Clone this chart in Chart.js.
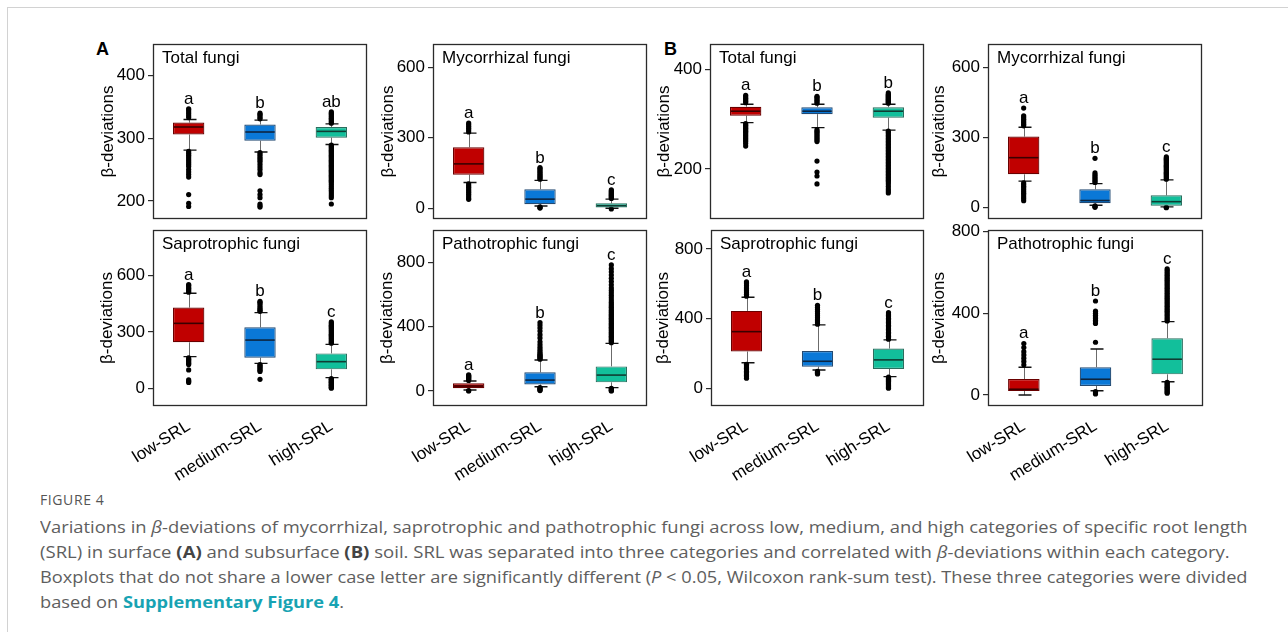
<!DOCTYPE html>
<html><head><meta charset="utf-8">
<script src="https://cdn.jsdelivr.net/npm/chart.js@4.4.1/dist/chart.umd.min.js"></script>
<style>
html,body{margin:0;padding:0;background:#fff;width:1288px;height:632px;overflow:hidden;position:relative;font-family:'Liberation Sans',Arial,sans-serif;}
.frameTop{position:absolute;left:7px;top:7px;width:1281px;height:0;border-top:1.5px solid #d2d2d2;}
.frameLeft{position:absolute;left:7px;top:7px;width:0;height:625px;border-left:1.5px solid #d2d2d2;}
canvas{position:absolute;}
.plab{position:absolute;font-weight:bold;font-size:18px;color:#000;line-height:1;}
.fig{position:absolute;left:40px;top:491px;font-family:'Open Sans',sans-serif;font-size:14px;color:#555;letter-spacing:0.6px;line-height:17px;}
.ln{position:absolute;left:40px;white-space:nowrap;font-family:'Open Sans',sans-serif;font-size:16.5px;color:#5e5e5e;transform-origin:0 50%;line-height:20px;}
.ln b{color:#444;}
.ln .sup{color:#17a3b3;font-weight:bold;}
</style></head>
<body>
<div class="frameTop"></div><div class="frameLeft"></div>
<div class="plab" style="left:96px;top:40px;">A</div>
<div class="plab" style="left:664px;top:40px;">B</div>
<div id="charts"></div>
<div class="fig">FIGURE 4</div>
<div class="ln" id="l1" data-end="1248" style="top:517px;"><span>Variations in <i>β</i>-deviations of mycorrhizal, saprotrophic and pathotrophic fungi across low, medium, and high categories of specific root length</span></div>
<div class="ln" id="l2" data-end="1230" style="top:542px;"><span>(SRL) in surface <b>(A)</b> and subsurface <b>(B)</b> soil. SRL was separated into three categories and correlated with <i>β</i>-deviations within each category.</span></div>
<div class="ln" id="l3" data-end="1248" style="top:567px;"><span>Boxplots that do not share a lower case letter are significantly different (<i>P</i> &lt; 0.05, Wilcoxon rank-sum test). These three categories were divided</span></div>
<div class="ln" id="l4" style="top:592px;"><span>based on <span class="sup">Supplementary Figure 4</span>.</span></div>
<script>
// ---------- DATA ----------
const categories = ['low-SRL', 'medium-SRL', 'high-SRL'];

// A: Total fungi
const aTotalLower  = [281, 278, 290];
const aTotalQ1     = [306, 296, 301];
const aTotalMedian = [318, 310, 311];
const aTotalQ3     = [325, 322, 318];
const aTotalUpper  = [330, 329, 323];
const aTotalOutliers = [
  [333,336,339,342,345,347, 279,276,273,270,267,264,261,258,255,250,246,242,238,210,196,191],
  [331,333,336,338,340, 277,274,271,268,265,262,258,254,250,245,242,216,210,205,195,192,190],
  [324,326,328,330,332,334,336,338,340,342, 289,287,285,283,281,279,277,275,273,271,269,267,265,263,261,259,257,255,253,251,249,247,245,243,241,239,237,235,233,231,229,226,223,220,217,214,211,208,205,195]
];
const aTotalLetters = ['a', 'b', 'ab'];
const aTotalTicks = [200, 300, 400];

// A: Mycorrhizal fungi
const aMycoLower  = [110, 10, 0];
const aMycoQ1     = [143, 17, 3];
const aMycoMedian = [189, 39, 11];
const aMycoQ3     = [260, 81, 21];
const aMycoUpper  = [320, 119, 39];
const aMycoOutliers = [
  [325,333,341,349,356,363, 104,97,90,82,75,68,60,52,44,38],
  [124,129,134,139,145,151,157,163,169,173, 6,3,1],
  [42,46,50,54,58,62,66,70,74,78, -3]
];
const aMycoLetters = ['a', 'b', 'c'];
const aMycoTicks = [0, 300, 600];

// B: Total fungi
const bTotalLower  = [293, 283, 278];
const bTotalQ1     = [307, 310, 303];
const bTotalMedian = [316, 316, 316];
const bTotalQ3     = [325, 324, 324];
const bTotalUpper  = [330, 330, 330];
const bTotalOutliers = [
  [333,336,339,342,345,348, 291,288,285,282,279,276,273,270,267,264,261,258,255,251,246],
  [332,335,338,341,344,346, 279,276,273,270,267,264,261,258,255,216,194,186,170],
  [332,334,336,338,340,342,344,346,348,350,353, 276,273,270,267,264,261,258,255,252,249,246,243,240,237,234,231,228,225,222,219,216,213,210,207,204,201,198,195,192,189,186,183,180,177,174,170,165,160,156,152]
];
const bTotalLetters = ['a', 'b', 'b'];
const bTotalTicks = [200, 400];

// B: Mycorrhizal fungi
const bMycoLower  = [114, 11, 4];
const bMycoQ1     = [143, 19, 9];
const bMycoMedian = [214, 31, 26];
const bMycoQ3     = [304, 79, 53];
const bMycoUpper  = [344, 103, 119];
const bMycoOutliers = [
  [350,357,364,371,378,386,393,426, 106,99,92,85,78,70,62,54,46,38,30],
  [108,114,120,127,134,141,149,211, 8,5,2],
  [122,127,132,137,142,147,152,157,162,167,172,177,182,187,192,197,202,207,212,217, 2,0]
];
const bMycoLetters = ['a', 'b', 'c'];
const bMycoTicks = [0, 300, 600];

// A: Saprotrophic fungi
const aSaproLower  = [169, 133, 57];
const aSaproQ1     = [245, 163, 101];
const aSaproMedian = [346, 257, 142];
const aSaproQ3     = [430, 325, 186];
const aSaproUpper  = [506, 403, 234];
const aSaproOutliers = [
  [512,519,526,533,540,547,552, 162,155,148,141,134,127,98,45,38,31],
  [410,416,422,430,440,450,458,463, 127,121,115,109,103,96,90,48],
  [240,246,252,258,264,270,276,282,288,294,300,306,312,318,324,330,336,342,348,354, 52,48,44,40,36,32,28,24,20,16,12,8,4,1]
];
const aSaproLetters = ['a', 'b', 'c'];
const aSaproTicks = [0, 300, 600];

// A: Pathotrophic fungi
const aPathoLower  = [6, 27, 21];
const aPathoQ1     = [17, 41, 54];
const aPathoMedian = [31, 68, 99];
const aPathoQ3     = [48, 116, 153];
const aPathoUpper  = [62, 193, 296];
const aPathoOutliers = [
  [66,71,76,81,86,91,96,100, 3,0],
  [198,204,210,216,222,228,236,246,258,272,288,306,330,350,372,392,410,425, 22,17,12,7,3],
  [300,308,316,324,332,340,348,356,364,372,380,388,396,404,412,420,428,436,444,452,460,468,476,484,492,500,510,520,530,540,552,565,580,595,610,625,640,660,680,700,720,740,760,783, 17,12,7,3,0]
];
const aPathoLetters = ['a', 'b', 'c'];
const aPathoTicks = [0, 400, 800];

// B: Saprotrophic fungi
const bSaproLower  = [147, 105, 67];
const bSaproQ1     = [211, 124, 111];
const bSaproMedian = [325, 155, 163];
const bSaproQ3     = [444, 214, 228];
const bSaproUpper  = [522, 364, 278];
const bSaproOutliers = [
  [528,540,552,564,576,588,600,610, 138,130,122,114,106,98,90,82,74,66,58],
  [368,380,392,404,416,428,440,452,464,476, 97,92,87,82],
  [282,290,298,306,314,322,330,338,346,354,362,370,378,386,394,402,410,418,426,434, 64,58,52,46,40,34,28,22,16,10,5,1]
];
const bSaproLetters = ['a', 'b', 'c'];
const bSaproTicks = [0, 400, 800];

// B: Pathotrophic fungi
const bPathoLower  = [0, 21, 65];
const bPathoQ1     = [20, 44, 101];
const bPathoMedian = [28, 77, 175];
const bPathoQ3     = [78, 136, 278];
const bPathoUpper  = [136, 225, 359];
const bPathoOutliers = [
  [148,164,180,196,212,232,252],
  [258,350,358,366,374,382,390,400,410,460, 17,11,5],
  [362,370,378,386,394,402,410,418,426,434,442,450,458,466,474,482,490,498,506,514,522,530,538,546,554,562,570,578,586,594,602,610,618, 62,56,50,44,38,32,26,20,14,9]
];
const bPathoLetters = ['a', 'b', 'c'];
const bPathoTicks = [0, 400, 800];

// ---------- LAYOUT / STYLE ----------
const fillColors = ['#C00000', '#0A78D7', '#12BF9B'];
const edgeColors = ['#6a0000', '#234a72', '#2a6e5e'];
const medianColors = ['#3a0000', '#0d2540', '#0f3d33'];

const panels = [
  {title:'Total fungi', lower:aTotalLower, q1:aTotalQ1, median:aTotalMedian, q3:aTotalQ3, upper:aTotalUpper, outliers:aTotalOutliers, letters:aTotalLetters, ticks:aTotalTicks, min:171, max:450.6, titleX:108, left:153, right:367, top:44, bottom:219, xLabels:false},
  {title:'Mycorrhizal fungi', lower:aMycoLower, q1:aMycoQ1, median:aMycoMedian, q3:aMycoQ3, upper:aMycoUpper, outliers:aMycoOutliers, letters:aMycoLetters, ticks:aMycoTicks, min:-45.5, max:699, titleX:388, left:433, right:647, top:44, bottom:219, xLabels:false},
  {title:'Total fungi', lower:bTotalLower, q1:bTotalQ1, median:bTotalMedian, q3:bTotalQ3, upper:bTotalUpper, outliers:bTotalOutliers, letters:bTotalLetters, ticks:bTotalTicks, min:99.7, max:450.8, titleX:664, left:710, right:924, top:44, bottom:219, xLabels:false},
  {title:'Mycorrhizal fungi', lower:bMycoLower, q1:bMycoQ1, median:bMycoMedian, q3:bMycoQ3, upper:bMycoUpper, outliers:bMycoOutliers, letters:bMycoLetters, ticks:bMycoTicks, min:-48, max:699.6, titleX:939, left:988, right:1202, top:44, bottom:219, xLabels:false},
  {title:'Saprotrophic fungi', lower:aSaproLower, q1:aSaproQ1, median:aSaproMedian, q3:aSaproQ3, upper:aSaproUpper, outliers:aSaproOutliers, letters:aSaproLetters, ticks:aSaproTicks, min:-94, max:843, titleX:107, left:153, right:367, top:230, bottom:406, xLabels:true},
  {title:'Pathotrophic fungi', lower:aPathoLower, q1:aPathoQ1, median:aPathoMedian, q3:aPathoQ3, upper:aPathoUpper, outliers:aPathoOutliers, letters:aPathoLetters, ticks:aPathoTicks, min:-93, max:1000, titleX:387, left:433, right:647, top:230, bottom:406, xLabels:true},
  {title:'Saprotrophic fungi', lower:bSaproLower, q1:bSaproQ1, median:bSaproMedian, q3:bSaproQ3, upper:bSaproUpper, outliers:bSaproOutliers, letters:bSaproLetters, ticks:bSaproTicks, min:-101.5, max:908, titleX:663, left:711, right:924, top:230, bottom:406, xLabels:true},
  {title:'Pathotrophic fungi', lower:bPathoLower, q1:bPathoQ1, median:bPathoMedian, q3:bPathoQ3, upper:bPathoUpper, outliers:bPathoOutliers, letters:bPathoLetters, ticks:bPathoTicks, min:-54, max:807.6, titleX:939, left:988, right:1203, top:230, bottom:406, xLabels:true}
];

Chart.defaults.font.family = "'Liberation Sans', Arial, sans-serif";
Chart.defaults.font.size = 17;
Chart.defaults.color = '#000';

const FONT = "17px 'Liberation Sans', Arial, sans-serif";

const boxPlugin = {
  id: 'boxExtras',
  beforeDatasetsDraw(chart) {
    const o = chart.options.plugins.boxExtras;
    const ctx = chart.ctx, ys = chart.scales.y;
    const bars = chart.getDatasetMeta(0).data;
    ctx.save();
    bars.forEach((bar, i) => {
      const x = Math.round(bar.x) + 0.5;
      const yQ1 = ys.getPixelForValue(o.q1[i]), yQ3 = ys.getPixelForValue(o.q3[i]);
      const yLo = ys.getPixelForValue(o.lower[i]), yHi = ys.getPixelForValue(o.upper[i]);
      ctx.strokeStyle = '#6b6b6b'; ctx.lineWidth = 1;
      ctx.beginPath();
      ctx.moveTo(x, yQ3); ctx.lineTo(x, yHi);
      ctx.moveTo(x, yQ1); ctx.lineTo(x, yLo);
      ctx.stroke();
      ctx.strokeStyle = '#111'; ctx.lineWidth = 1.4;
      ctx.beginPath();
      ctx.moveTo(x - 6, yHi); ctx.lineTo(x + 7, yHi);
      ctx.moveTo(x - 6, yLo); ctx.lineTo(x + 7, yLo);
      ctx.stroke();
    });
    ctx.restore();
  },
  afterDatasetsDraw(chart) {
    const o = chart.options.plugins.boxExtras;
    const ctx = chart.ctx, ys = chart.scales.y;
    const bars = chart.getDatasetMeta(0).data;
    ctx.save();
    bars.forEach((bar, i) => {
      const ym = ys.getPixelForValue(o.median[i]);
      const half = bar.width / 2;
      ctx.strokeStyle = medianColors[i]; ctx.lineWidth = 1.6;
      ctx.beginPath(); ctx.moveTo(bar.x - half + 1, ym); ctx.lineTo(bar.x + half - 1, ym); ctx.stroke();
      const top = Math.max(o.upper[i], ...o.outliers[i]);
      ctx.fillStyle = '#000'; ctx.font = FONT; ctx.textAlign = 'center'; ctx.textBaseline = 'alphabetic';
      ctx.fillText(o.letters[i], bar.x, ys.getPixelForValue(top) - 5);
    });
    const ca = chart.chartArea;
    ctx.fillStyle = '#000'; ctx.font = FONT; ctx.textAlign = 'left'; ctx.textBaseline = 'middle';
    ctx.fillText(o.title, ca.left + 9, ca.top + 14);
    ctx.restore();
  },
  afterDraw(chart) {
    const ca = chart.chartArea, ctx = chart.ctx;
    ctx.save();
    ctx.strokeStyle = '#2b2b2b'; ctx.lineWidth = 1.3;
    ctx.strokeRect(ca.left + 0.5, ca.top + 0.5, ca.right - ca.left - 1, ca.bottom - ca.top - 1);
    ctx.restore();
  }
};

const PAD_TOP = 14, PAD_RIGHT = 4;
const holder = document.getElementById('charts');
panels.forEach((p) => {
  const canvasLeft = Math.round(p.titleX - 10.2);
  const yAxisW = p.left - canvasLeft;
  const xAxisH = p.xLabels ? 80 : 14;
  const cw = p.right - canvasLeft + PAD_RIGHT;
  const ch = PAD_TOP + (p.bottom - p.top) + xAxisH;
  const cv = document.createElement('canvas');
  cv.width = cw; cv.height = ch;
  cv.style.left = canvasLeft + 'px'; cv.style.top = (p.top - PAD_TOP) + 'px';
  cv.style.width = cw + 'px'; cv.style.height = ch + 'px';
  holder.appendChild(cv);
  new Chart(cv, {
    type: 'bar',
    data: {
      labels: categories,
      datasets: [
        {
          type: 'bar',
          data: p.q1.map((v, i) => [v, p.q3[i]]),
          backgroundColor: fillColors,
          borderColor: edgeColors,
          borderWidth: 1.2,
          borderSkipped: false,
          barPercentage: 0.44,
          categoryPercentage: 1
        },
        {
          type: 'scatter',
          data: p.outliers.flatMap((arr, i) => arr.map(v => ({x: categories[i], y: v}))),
          pointRadius: 2.6,
          pointBackgroundColor: '#000',
          pointBorderWidth: 0,
          pointBorderColor: '#000'
        }
      ]
    },
    options: {
      responsive: false,
      devicePixelRatio: 1,
      animation: false,
      events: [],
      layout: {padding: {top: PAD_TOP, right: PAD_RIGHT, bottom: 0, left: 0}},
      plugins: {
        legend: {display: false},
        tooltip: {enabled: false},
        boxExtras: {title: p.title, lower: p.lower, q1: p.q1, median: p.median, q3: p.q3, upper: p.upper, outliers: p.outliers, letters: p.letters}
      },
      scales: {
        x: {
          type: 'category',
          offset: true,
          grid: {display: false},
          border: {display: false},
          ticks: {display: p.xLabels, minRotation: 32, maxRotation: 32, autoSkip: false, padding: 2, color: '#000', font: {size: 17}},
          afterFit: (s) => { s.height = xAxisH; }
        },
        y: {
          type: 'linear',
          min: p.min, max: p.max,
          border: {display: false},
          grid: {drawOnChartArea: false, drawTicks: true, tickLength: 5, color: '#2b2b2b', lineWidth: 1.2},
          ticks: {padding: 3, color: '#000', font: {size: 17}},
          afterBuildTicks: (s) => { s.ticks = p.ticks.map(v => ({value: v})); },
          title: {display: true, text: 'β-deviations', color: '#000', font: {size: 17}, padding: 0},
          afterFit: (s) => { s.width = yAxisW; }
        }
      }
    },
    plugins: [boxPlugin]
  });
});

// ---------- caption line fitting (offsetWidth ignores transforms) ----------
function fitCaption() {
  const start = 40;
  let lastScale = 1;
  ['l1', 'l2', 'l3'].forEach(id => {
    const el = document.getElementById(id);
    const w = el.offsetWidth;
    const s = (parseFloat(el.dataset.end) - start) / w;
    el.style.transform = 'scaleX(' + s + ')';
    lastScale = s;
  });
  document.getElementById('l4').style.transform = 'scaleX(' + lastScale + ')';
}
fitCaption();
if (document.fonts && document.fonts.ready) { document.fonts.ready.then(() => fitCaption()); }
</script>
</body></html>
